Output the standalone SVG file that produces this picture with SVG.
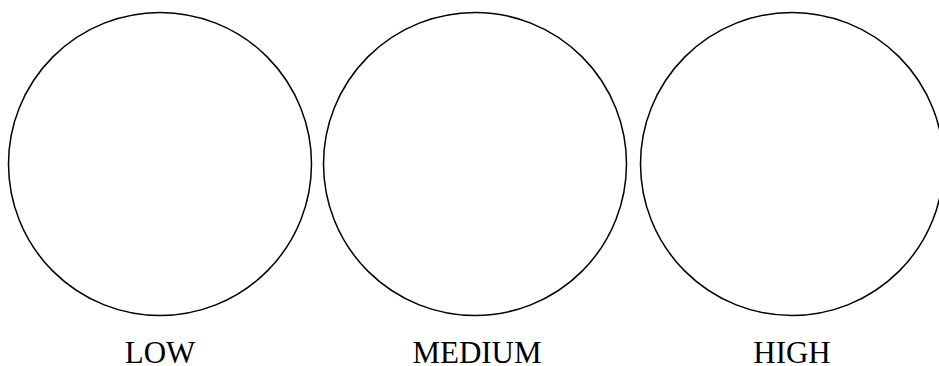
<svg xmlns="http://www.w3.org/2000/svg" width="939" height="366" viewBox="0 0 939 366">
<style>
.c{fill:#fff;stroke:#000;stroke-width:1.5}
.t{font-family:"Liberation Serif","Times New Roman",serif;font-size:31px;fill:#000;text-anchor:middle}
</style>
<rect width="939" height="366" fill="#fff"/>
<g id="low"><circle class="c" cx="160" cy="164" r="151.5"/><text class="t" x="160" y="363">LOW</text></g>
<g id="medium"><circle class="c" cx="475" cy="164" r="151.5"/><text class="t" x="477" y="363">MEDIUM</text></g>
<g id="high"><circle class="c" cx="792" cy="164" r="151.5"/><text class="t" x="792" y="363">HIGH</text></g>
<g id="connectors"/>
</svg>
